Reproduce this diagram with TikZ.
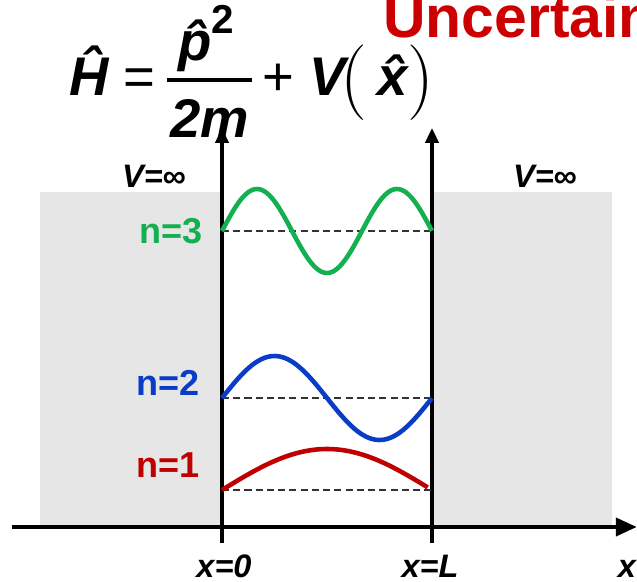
\documentclass[tikz,border=0pt]{standalone}
\usepackage{fontspec}
\usepackage{xcolor}
\usepackage{tikz}
\usetikzlibrary{
  arrows.meta,
  positioning,
  calc
}
\newfontfamily\lblfont{Liberation Sans}
\definecolor{qmRed}{HTML}{C00000}
\definecolor{qmTitle}{HTML}{CC0000}
\definecolor{qmBlue}{HTML}{0A3CC8}
\definecolor{qmGreen}{HTML}{12B050}
\definecolor{qmWall}{HTML}{E6E6E6}
\definecolor{qmDash}{HTML}{333333}
\newcommand{\qmhat}[1]{\accent"02C6 #1}
\newcommand{\qmop}[1]{{\mdseries\upshape #1}}
\tikzset{
  eq/.style={
    inner sep=0pt, anchor=base west,
    font=\lblfont\bfseries\itshape\fontsize{31}{36}\selectfont
  },
  paren/.style={
    inner sep=0pt, anchor=base,
    font=\rmfamily\mdseries\upshape\fontsize{43}{45}\selectfont
  },
  title/.style={
    inner sep=0pt, anchor=base west, text=qmTitle,
    font=\lblfont\bfseries\fontsize{33.5}{38}\selectfont
  },
  lbl/.style={inner sep=0pt, anchor=base, font=\lblfont\bfseries\fontsize{18.5}{22}\selectfont},
  ilbl/.style={lbl, font=\lblfont\bfseries\itshape\fontsize{18.5}{22}\selectfont},
  nlbl/.style={lbl, anchor=base east, font=\lblfont\bfseries\fontsize{20.5}{24}\selectfont},
  wallbox/.style={fill=qmWall},
  vaxis/.style={line width=2.5pt, -{Triangle[length=8.5pt, width=7.5pt]}},
  haxis/.style={line width=2.7pt, -{Triangle[length=12pt, width=10pt]}},
  level/.style={qmDash, line width=1pt, dash pattern=on 4pt off 2.4pt},
  psi/.style={line width=2.6pt},
  fracbar/.style={line width=1.8pt}
}
\begin{document}
\begin{tikzpicture}[x=0.02cm, y=-0.02cm]
  \useasboundingbox (0,0) rectangle (637,582);

  % infinite walls
  \fill[wallbox] (40,192) rectangle (222,527);
  \fill[wallbox] (432,192) rectangle (612,527);

  % axes
  \coordinate (ax0) at (12,527);
  \coordinate (ax1) at (637,527);
  \coordinate (w0b) at (222,543);
  \coordinate (w0t) at (222,128);
  \coordinate (wLb) at (432,543);
  \coordinate (wLt) at (432,128);
  \draw[haxis] (ax0) -- (ax1);
  \draw[vaxis] (w0b) -- (w0t);
  \draw[vaxis] (wLb) -- (wLt);

  % levels
  \foreach \yy in {231,398,490}
    \draw[level] (222,\yy) -- (432,\yy);

  % wave functions
  \draw[psi, qmGreen] plot[domain=0:1, samples=90] ({222+210*\x},{231-42*sin(540*\x)});
  \draw[psi, qmBlue] plot[domain=0:1, samples=80] ({222+210*\x},{398-42*sin(360*\x)});
  \draw[psi, qmRed] plot[domain=0:0.98, samples=60] ({222+210*\x},{490-41*sin(180*\x)});

  \node[nlbl, text=qmGreen] (n3) at (203,243) {n=3};
  \node[nlbl, text=qmBlue] (n2) at (200,395) {n=2};
  \node[nlbl, text=qmRed] (n1) at (200,477) {n=1};

  \node[ilbl] (vl) at (154,187) {V=∞};
  \node[ilbl] (vr) at (545,187) {V=∞};

  \node[ilbl] (x0) at (224,577) {x=0};
  \node[ilbl] (xL) at (430,577) {x=L};
  \node[ilbl] (xlab) at (627,577) {x};

  % Hamiltonian
  \node[eq] (ham) at (69,95) {\qmhat{H} \qmop{=}};
  \node[eq] (num) at (178,60) {\qmhat{p}\raisebox{15pt}{\upshape\fontsize{23}{24}\selectfont 2}};
  \node[eq] (den) at (170,137) {2m};
  \draw[fracbar] (167,80) -- (252,80);
  \node[eq] (plusv) at (262,95) {\qmop{+} V};
  \node[paren] (lpar) at (354,101) {(};
  \node[eq, anchor=base] (xop) at (393,95) {\qmhat{x}};
  \node[paren] (rpar) at (421,101) {)};

  \node[title] (unc) at (383,37) {Uncertain};
\end{tikzpicture}
\end{document}
